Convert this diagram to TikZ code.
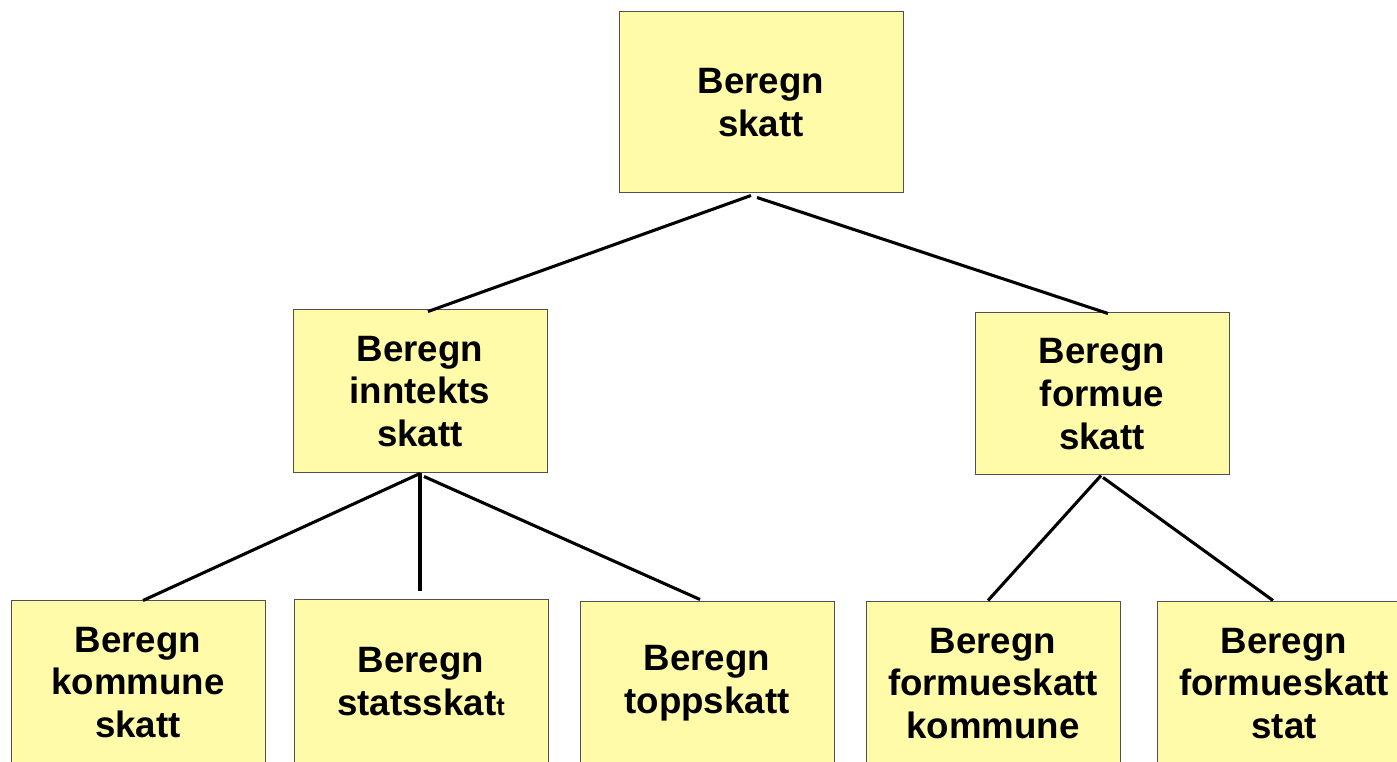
\documentclass[tikz,border=0pt]{standalone}
\usepackage{fontspec}
\setmainfont{Liberation Sans}
\usetikzlibrary{calc}
\definecolor{boxfill}{RGB}{255,251,168}
\definecolor{boxline}{RGB}{80,80,80}
\tikzset{
  task/.style={draw=boxline, line width=0.75pt, fill=boxfill, inner sep=0pt,
    minimum width=190.5pt, minimum height=122.25pt, align=center,
    font=\fontsize{27.5pt}{32pt}\selectfont\bfseries},
  link/.style={line width=2.3pt, black},
}
\begin{document}
\begin{tikzpicture}[x=0.75pt, y=-0.75pt]
  \useasboundingbox (0,0) rectangle (1397,762);
  \clip (0,0) rectangle (1397,762);
  % tree of tasks
  \node[task, minimum width=213pt, minimum height=135.75pt] (root) at (761,102.5) {Beregn\\skatt};
  \node[task] (inntekt) at (420,391.5) {Beregn\\inntekts\\skatt};
  \node[task, minimum height=121.5pt] (formue) at (1102,394) {Beregn\\formue\\skatt};
  \node[task] (kommune) at (138,682.5) {Beregn\\kommune\\skatt};
  \node[task] (stat) at (421,681.5) {Beregn\\statsskat{\fontsize{19pt}{32pt}\selectfont t}};
  \node[task] (topp) at (707,683.5) {Beregn\\toppskatt};
  \node[task] (fkommune) at (993,683.5) {Beregn\\formueskatt\\kommune};
  \node[task] (fstat) at (1284,683.5) {Beregn\\formueskatt\\stat};
  % connector end points
  \coordinate (rootL) at ($(root.south)+(-10,2)$);
  \coordinate (rootR) at ($(root.south)+(-4,4)$);
  \coordinate (inntektTop) at ($(inntekt.north)+(8,2)$);
  \coordinate (formueTop) at ($(formue.north)+(6,1)$);
  \coordinate (inntektBot) at (inntekt.south);
  \coordinate (inntektBotR) at ($(inntekt.south)+(4,3)$);
  \coordinate (kommuneTop) at ($(kommune.north)+(5,0)$);
  \coordinate (statTop) at ($(stat.north)+(-1,-8)$);
  \coordinate (toppTop) at ($(topp.north)+(-7,-2)$);
  \coordinate (formueBot) at ($(formue.south)+(-1,0)$);
  \coordinate (formueBotR) at ($(formue.south)+(1,2)$);
  \coordinate (fkommuneTop) at ($(fkommune.north)+(-5,-1)$);
  \coordinate (fstatTop) at ($(fstat.north)+(-11,-1)$);
  % connectors
  \draw[link] (rootL) -- (inntektTop);
  \draw[link] (rootR) -- (formueTop);
  \draw[link] (inntektBot) -- (kommuneTop);
  \draw[link] (inntektBot) -- (statTop);
  \draw[link] (inntektBotR) -- (toppTop);
  \draw[link] (formueBot) -- (fkommuneTop);
  \draw[link] (formueBotR) -- (fstatTop);
\end{tikzpicture}
\end{document}
